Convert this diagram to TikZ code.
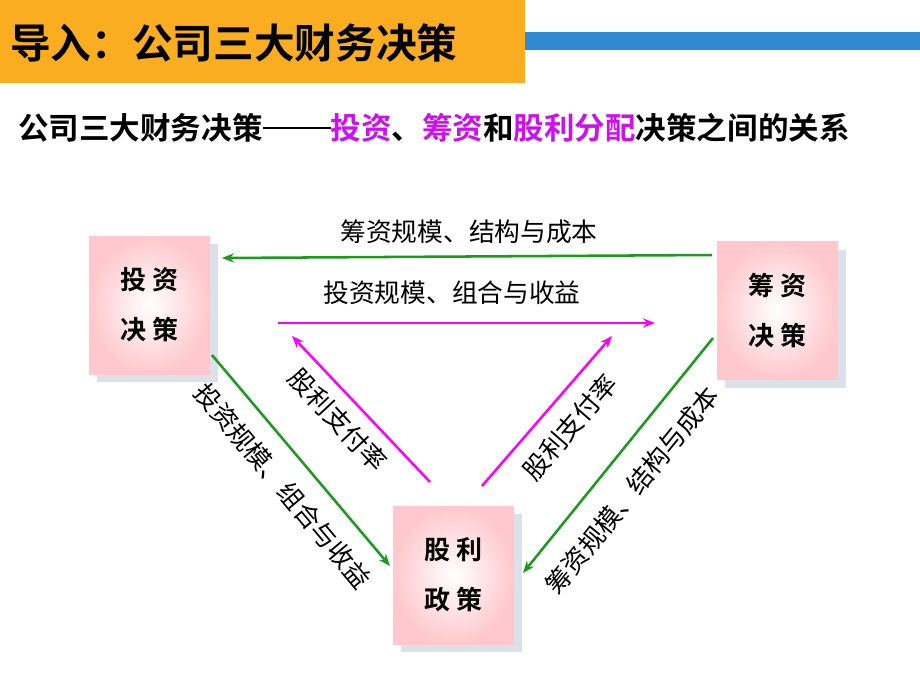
\documentclass[tikz,border=0pt]{standalone}
\usepackage{fontspec}
\newfontfamily\cjk{Noto Sans CJK SC}
\newfontfamily\cjkb{Noto Sans CJK SC Bold}
\usetikzlibrary{arrows.meta,shadows}
\definecolor{hdr}{HTML}{FBAD21}
\definecolor{bar}{HTML}{2E8BD2}
\definecolor{grn}{HTML}{1C9A1C}
\definecolor{mag}{HTML}{FF00FF}
\definecolor{vio}{HTML}{CC10F0}
\definecolor{pinkbox}{HTML}{FFC8CC}
\definecolor{shad}{HTML}{DCE0EA}
\tikzset{
  decbox/.style={draw=none, minimum width=90.75pt, minimum height=103.5pt, inner sep=0pt,
    shading=radial, inner color=white, outer color=pinkbox,
    drop shadow={shadow xshift=6pt, shadow yshift=-6pt, fill=shad, opacity=1},
    font=\cjkb\fontsize{19.5pt}{37.5pt}\selectfont, align=center},
  garrow/.style={draw=grn, line width=1.9pt, -{Stealth[length=9pt,width=7pt]}},
  marrow/.style={draw=mag, line width=1.9pt, -{Stealth[length=9pt,width=7pt]}},
  lbl/.style={font=\cjk\fontsize{19.3pt}{22pt}\selectfont, inner sep=0pt}
}
\begin{document}
\begin{tikzpicture}[x=0.75pt,y=-0.75pt]
\useasboundingbox (0,0) rectangle (920,690);
% header
\fill[hdr] (0,0) rectangle (525,83);
\fill[bar] (525,32) rectangle (920,50);
\node[anchor=west, inner sep=0pt, font=\cjkb\fontsize{30.5pt}{32pt}\selectfont] (title) at (10,43) {导入：公司三大财务决策};
\node[anchor=west, inner sep=0pt, font=\cjkb\fontsize{22.9pt}{24pt}\selectfont] (sub) at (18,128)
  {公司三大财务决策\rule[0.36em]{51pt}{1.7pt}\textcolor{vio}{投资}、\textcolor{vio}{筹资}和\textcolor{vio}{股利分配}决策之间的关系};
% boxes
\node[decbox] (inv) at (149.5,305) {投 资\\决 策};
\node[decbox] (fin) at (777.5,310.5) {筹 资\\决 策};
\node[decbox] (div) at (453.5,575) {股 利\\政 策};
% arrow endpoints
\coordinate (g1s) at (712,255);
\coordinate (g1e) at (222,258);
\coordinate (m1s) at (278,323);
\coordinate (m1e) at (655,323);
\coordinate (g2s) at (212,355);
\coordinate (g2e) at (390,566);
\coordinate (m2s) at (430,482);
\coordinate (m2e) at (292,336);
\coordinate (m3s) at (482,486);
\coordinate (m3e) at (612,336);
\coordinate (g3s) at (713,338);
\coordinate (g3e) at (523,573);
\draw[garrow] (g1s) -- (g1e);
\draw[marrow] (m1s) -- (m1e);
\draw[garrow] (g2s) -- (g2e);
\draw[marrow] (m2s) -- (m2e);
\draw[marrow] (m3s) -- (m3e);
\draw[garrow] (g3s) -- (g3e);
% labels
\node[lbl] (l1) at (469,232) {筹资规模、结构与成本};
\node[lbl] (l2) at (452,293) {投资规模、组合与收益};
\node[lbl, rotate=-50] (l3) at (283,486) {投资规模、组合与收益};
\node[lbl, rotate=-47] (l4) at (338,420) {股利支付率};
\node[lbl, rotate=49] (l5) at (570,427) {股利支付率};
\node[lbl, rotate=51] (l6) at (632,490) {筹资规模、结构与成本};
\end{tikzpicture}
\end{document}
